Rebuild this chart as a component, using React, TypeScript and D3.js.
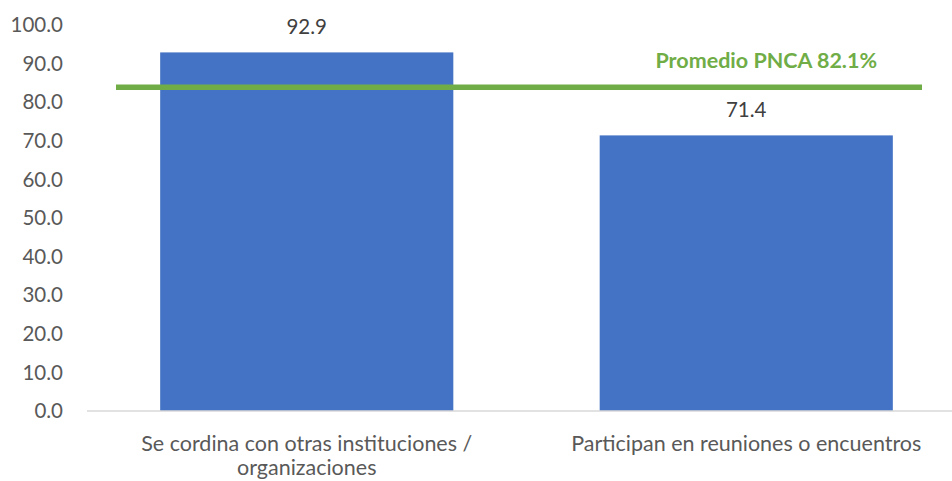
import * as d3 from "d3";
import { useEffect, useRef } from "react";

// chart data
const categories = [
  ["Se cordina con otras instituciones /", "organizaciones"],
  ["Participan en reuniones o encuentros"],
];
const values = [92.9, 71.4];
const yTicks = [0, 10, 20, 30, 40, 50, 60, 70, 80, 90, 100];
const averageLine = 83.9; // where the reference line sits on the chart
const averageLabel = "Promedio PNCA 82.1%";

const W = 952;
const H = 481;

const App = () => {
  const ref = useRef<SVGSVGElement>(null);

  useEffect(() => {
    const svg = d3.select(ref.current);
    svg.selectAll("*").remove();

    const font = "Lato, 'Open Sans', sans-serif";
    const keys = categories.map((c) => c.join(" "));

    const x = d3
      .scaleBand()
      .domain(keys)
      .range([87, 966])
      .paddingInner(0.333)
      .paddingOuter(0.1665);
    const y = d3.scaleLinear().domain([0, 100]).range([411, 25]);

    // y tick labels (no axis line)
    svg
      .append("g")
      .selectAll("text")
      .data(yTicks)
      .join("text")
      .attr("x", 63)
      .attr("y", (d) => y(d))
      .attr("dy", "0.35em")
      .attr("text-anchor", "end")
      .attr("font-family", font)
      .attr("font-size", 20.5)
      .attr("fill", "#595959")
      .text((d) => d.toFixed(1));

    // bars
    svg
      .append("g")
      .selectAll("rect")
      .data(values)
      .join("rect")
      .attr("x", (_, i) => x(keys[i])!)
      .attr("y", (d) => y(d))
      .attr("width", x.bandwidth())
      .attr("height", (d) => y(0) - y(d))
      .attr("fill", "#4472C4");

    // value labels
    svg
      .append("g")
      .selectAll("text")
      .data(values)
      .join("text")
      .attr("x", (_, i) => x(keys[i])! + x.bandwidth() / 2)
      .attr("y", (d) => y(d) - 18)
      .attr("text-anchor", "middle")
      .attr("font-family", font)
      .attr("font-size", 20.5)
      .attr("fill", "#404040")
      .text((d) => d.toFixed(1));

    // x axis baseline
    svg
      .append("line")
      .attr("x1", 87)
      .attr("x2", W)
      .attr("y1", y(0))
      .attr("y2", y(0))
      .attr("stroke", "#D9D9D9")
      .attr("stroke-width", 1.5);

    // category labels
    const cat = svg
      .append("g")
      .selectAll("text")
      .data(categories)
      .join("text")
      .attr("text-anchor", "middle")
      .attr("font-family", font)
      .attr("font-size", 21.5)
      .attr("fill", "#595959");
    cat
      .selectAll("tspan")
      .data((d, i) => d.map((t) => ({ t, i })))
      .join("tspan")
      .attr("x", (d) => x(keys[d.i])! + x.bandwidth() / 2)
      .attr("y", (_, j) => 451 + j * 24)
      .text((d) => d.t);

    // average line + label
    svg
      .append("line")
      .attr("x1", 116)
      .attr("x2", 922)
      .attr("y1", y(averageLine))
      .attr("y2", y(averageLine))
      .attr("stroke", "#70AD47")
      .attr("stroke-width", 5.5);

    svg
      .append("text")
      .attr("x", x(keys[1])! + x.bandwidth() / 2 + 20)
      .attr("y", y(averageLine) - 19)
      .attr("text-anchor", "middle")
      .attr("font-family", font)
      .attr("font-size", 21.5)
      .attr("font-weight", "bold")
      .attr("fill", "#70AD47")
      .text(averageLabel);
  }, []);

  return (
    <svg
      ref={ref}
      width={W}
      height={H}
      style={{ position: "absolute", left: 0, top: 0, background: "#fff" }}
    />
  );
};

export default App;
